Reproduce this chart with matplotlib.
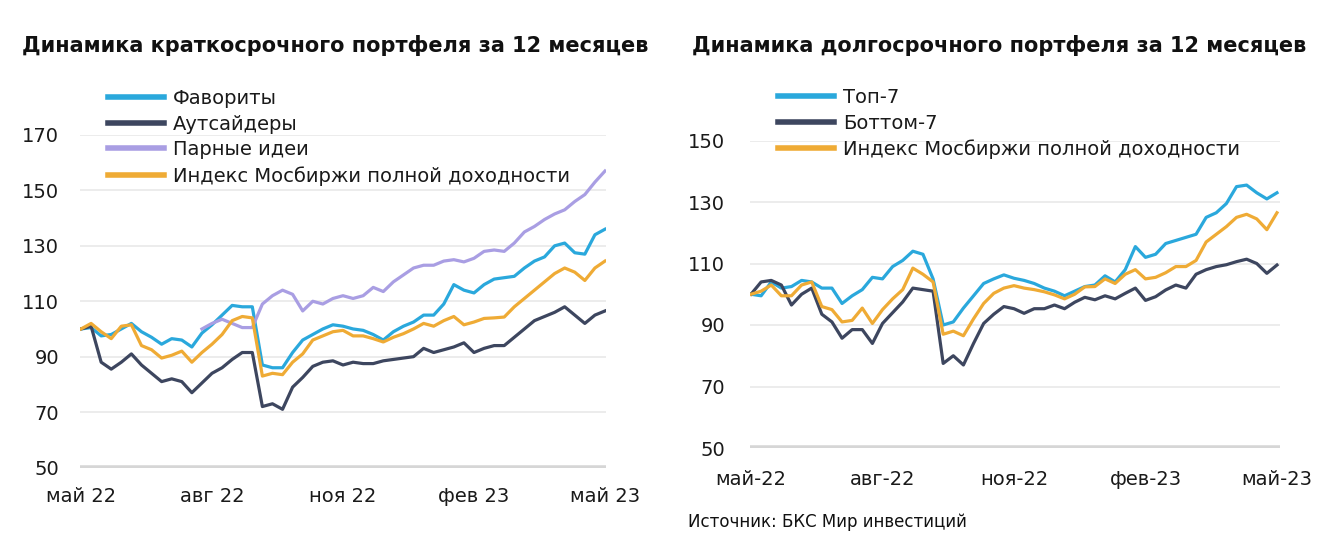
import matplotlib
matplotlib.use('Agg')
import matplotlib.pyplot as plt
import numpy as np

plt.rcParams['font.family'] = ['DejaVu Sans']

# ---- data: weekly readings, May 2022 -> May 2023 ----
weeks = np.arange(53)
tick_pos = [0, 13, 26, 39, 52]
ticks_short = ['май 22', 'авг 22', 'ноя 22', 'фев 23', 'май 23']
ticks_long = ['май-22', 'авг-22', 'ноя-22', 'фев-23', 'май-23']

fav = [100, 100.5, 97.5, 98, 100, 102, 99, 97, 94.5, 96.5, 96, 93.5, 98.5, 101.5, 105,
       108.5, 108, 108, 87, 86, 86, 91.5, 96, 98, 100, 101.5, 101, 100, 99.5, 98, 96, 99,
       101, 102.5, 105, 105, 109, 116, 114, 113, 116, 118, 118.5, 119, 122, 124.5, 126,
       130, 131, 127.5, 127, 134, 136]
outs = [100, 101, 88, 85.5, 88, 91, 87, 84, 81, 82, 81, 77, 80.5, 84, 86, 89, 91.5, 91.5,
        72, 73, 71, 79, 82.5, 86.5, 88, 88.5, 87, 88, 87.5, 87.5, 88.5, 89, 89.5, 90, 93,
        91.5, 92.5, 93.5, 95, 91.5, 93, 94, 94, 97, 100, 103, 104.5, 106, 108, 105, 102,
        105, 106.5]
pairs = [np.nan] * 12 + [100, 102, 103.5, 102, 100.5, 100.5, 109, 112, 114, 112.5, 106.5,
         110, 109, 111, 112, 111, 112, 115, 113.5, 117, 119.5, 122, 123, 123, 124.5, 125,
         124.2, 125.5, 128, 128.5, 128, 131, 135, 137, 139.5, 141.5, 143, 146, 148.5, 153,
         157]
imoex_s = [100, 102, 99, 96.5, 101, 101.5, 94, 92.5, 89.5, 90.5, 92, 88, 91.5, 94.5, 98,
           103, 104.5, 104, 83, 84, 83.5, 88, 91, 96, 97.5, 99, 99.5, 97.5, 97.5, 96.5, 95.3,
           97, 98.3, 100, 102, 101, 103, 104.5, 101.5, 102.5, 103.8, 104, 104.3, 108, 111,
           114, 117, 120, 122, 120.5, 117.5, 122, 124.5]

top7 = [100, 99.5, 104, 102, 102.5, 104.5, 104, 102, 102, 97, 99.5, 101.5, 105.5, 105, 109,
        111, 114, 113, 105, 90, 91, 95.5, 99.5, 103.5, 105, 106.3, 105.2, 104.5, 103.5, 102,
        101, 99.5, 101, 102.5, 103, 106, 104, 108, 115.5, 112, 113, 116.5, 117.5, 118.5,
        119.5, 125, 126.5, 129.5, 135, 135.5, 133, 131, 133]
bottom7 = [100, 104, 104.5, 103, 96.5, 100, 102, 93.5, 91, 85.7, 88.5, 88.5, 84, 90.5, 94,
           97.5, 102, 101.5, 101, 77.5, 80, 77, 84, 90.5, 93.5, 96, 95.3, 93.8, 95.3, 95.3,
           96.5, 95.3, 97.4, 99, 98.2, 99.5, 98.5, 100.3, 102, 98, 99.2, 101.4, 103, 102,
           106.5, 108, 109, 109.6, 110.6, 111.4, 110, 106.8, 109.5]
imoex_l = [100, 101, 103, 99.5, 99.5, 103, 104, 96, 95, 91, 91.5, 95.5, 90.5, 95, 98.5,
           101.5, 108.5, 106.5, 104, 87, 88, 86.5, 92, 97, 100.3, 102, 102.8, 102, 101.5,
           100.8, 99.8, 98.5, 100, 102.4, 102.5, 105, 103.5, 106.5, 108, 105, 105.5, 107, 109,
           109, 111, 117, 119.5, 122, 125, 126, 124.5, 121, 126.5]

BLUE = '#2aa8dc'
NAVY = '#3d465f'
LILAC = '#a99ee3'
ORANGE = '#efab35'
GRID = '#ebebeb'
BASE = '#d6d6d6'

fig = plt.figure(figsize=(13.28, 5.52), dpi=100)

W, H = 1328, 552
def box(x0, x1, ytop, ybot):
    return [x0 / W, 1 - ybot / H, (x1 - x0) / W, (ybot - ytop) / H]

ax1 = fig.add_axes(box(80, 606, 135, 467.5))
ax2 = fig.add_axes(box(750, 1280, 140.5, 448))


def style(ax, yticks, xlabels, ypad, xpad):
    for s in ax.spines.values():
        s.set_visible(False)
    ax.set_yticks(yticks)
    ax.set_ylim(yticks[0], yticks[-1])
    ax.grid(axis='y', color=GRID, linewidth=1.3)
    ax.set_axisbelow(True)
    ax.axhline(yticks[0], color=BASE, linewidth=4, zorder=1)
    ax.set_xticks(tick_pos)
    ax.set_xticklabels(xlabels)
    ax.tick_params(axis='both', length=0, labelsize=14, colors='#1a1a1a')
    ax.tick_params(axis='y', pad=ypad)
    ax.tick_params(axis='x', pad=xpad)


lw = 2.3
ax1.plot(weeks, fav, color=BLUE, lw=lw, label='Фавориты', zorder=3)
ax1.plot(weeks, outs, color=NAVY, lw=lw, label='Аутсайдеры', zorder=3)
ax1.plot(weeks, pairs, color=LILAC, lw=lw, label='Парные идеи', zorder=3)
ax1.plot(weeks, imoex_s, color=ORANGE, lw=lw, label='Индекс Мосбиржи полной доходности', zorder=4)
ax1.set_xlim(-0.1, 52.1)
style(ax1, [50, 70, 90, 110, 130, 150, 170], ticks_short, 15, 14)

ax2.plot(weeks, top7, color=BLUE, lw=lw, label='Топ-7', zorder=3)
ax2.plot(weeks, bottom7, color=NAVY, lw=lw, label='Боттом-7', zorder=3)
ax2.plot(weeks, imoex_l, color=ORANGE, lw=lw, label='Индекс Мосбиржи полной доходности', zorder=4)
ax2.set_xlim(-0.1, 52.3)
style(ax2, [50, 70, 90, 110, 130, 150], ticks_long, 18, 16)

leg_kw = dict(frameon=False, fontsize=14, handlelength=2.9, handletextpad=0.45,
              labelspacing=0.34, borderpad=0, borderaxespad=0, loc='upper left',
              bbox_transform=fig.transFigure)
l1 = ax1.legend(bbox_to_anchor=(108 / W, 1 - 89 / H), **leg_kw)
l2 = ax2.legend(bbox_to_anchor=(778 / W, 1 - 88 / H), **leg_kw)
for lg in (l1, l2):
    for h in lg.get_lines():
        h.set_linewidth(4)
    for t in lg.get_texts():
        t.set_color('#1a1a1a')

fig.text(22 / W, 1 - 45 / H, 'Динамика краткосрочного портфеля за 12 месяцев',
         fontsize=15, fontweight='bold', va='center', ha='left', color='#111111')
fig.text(692 / W, 1 - 45 / H, 'Динамика долгосрочного портфеля за 12 месяцев',
         fontsize=15, fontweight='bold', va='center', ha='left', color='#111111')
fig.text(688 / W, 1 - 522 / H, 'Источник: БКС Мир инвестиций',
         fontsize=12, va='center', ha='left', color='#111111')

fig.savefig('out.png', dpi=100, facecolor='white')
